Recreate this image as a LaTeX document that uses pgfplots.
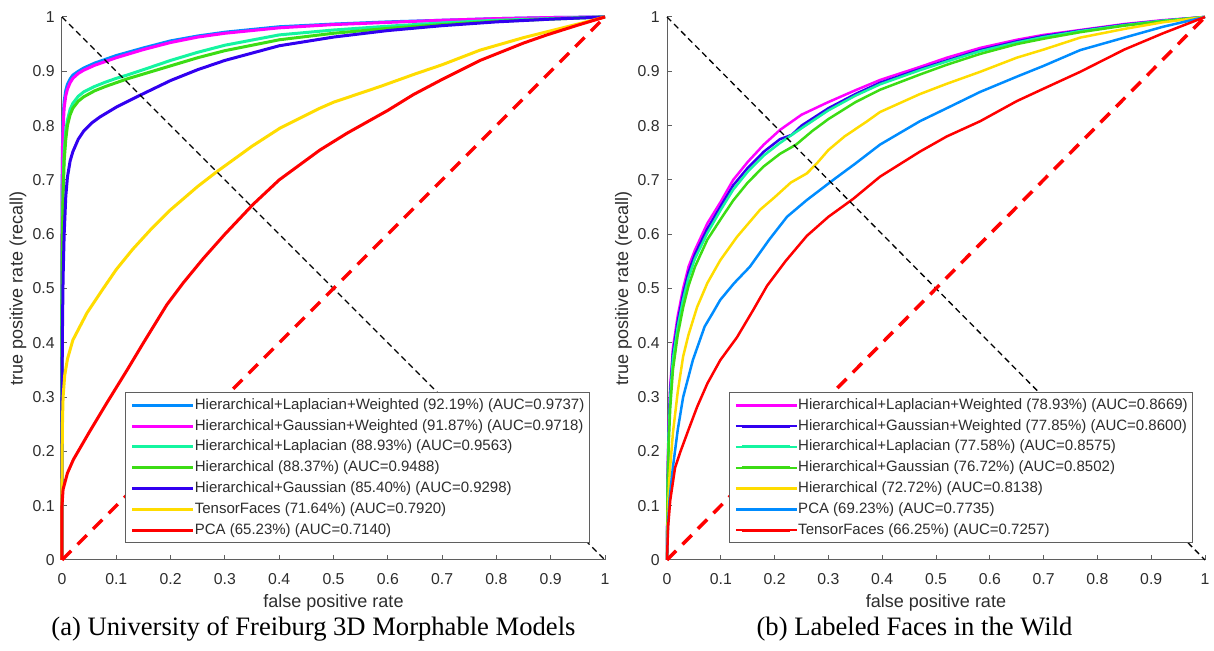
\documentclass[border=0pt]{standalone}
\usepackage{fontspec}
\setmainfont{Liberation Sans}
\newfontfamily\capfont{Liberation Serif}
\usepackage{pgfplots}
\pgfplotsset{compat=1.18}

\definecolor{cBlue}{RGB}{0,140,255}
\definecolor{cMag}{RGB}{255,0,255}
\definecolor{cCyan}{RGB}{20,245,160}
\definecolor{cGreen}{RGB}{60,220,20}
\definecolor{cViolet}{RGB}{50,0,240}
\definecolor{cYellow}{RGB}{255,220,0}
\definecolor{cRed}{RGB}{255,0,0}
\definecolor{axgray}{RGB}{95,95,95}
\definecolor{txt}{RGB}{45,45,45}

\pgfplotsset{roc/.style={
  scale only axis, height=271.5pt,
  xmin=0,xmax=1,ymin=0,ymax=1,
  axis x line*=bottom, axis y line*=left,
  axis line style={axgray, line width=0.5pt, -},
  tick align=inside, major tick length=2.5pt,
  tick style={axgray,line width=0.5pt},
  xtick={0,0.1,0.2,0.3,0.4,0.5,0.6,0.7,0.8,0.9,1},
  xticklabels={0,0.1,0.2,0.3,0.4,0.5,0.6,0.7,0.8,0.9,1},
  ytick={0,0.1,0.2,0.3,0.4,0.5,0.6,0.7,0.8,0.9,1},
  yticklabels={0,0.1,0.2,0.3,0.4,0.5,0.6,0.7,0.8,0.9,1},
  tick label style={font=\fontsize{7.9}{9}\selectfont, text=txt},
  xticklabel style={inner sep=0pt, yshift=-6.5pt},
  yticklabel style={inner sep=0pt, xshift=-3.5pt},
  label style={font=\fontsize{9}{10}\selectfont, text=txt},
  xlabel style={at={(axis description cs:0.5,-0.078)}, anchor=center},
  ylabel style={at={(axis description cs:-0.081,0.5)}, anchor=center},
  xlabel={false positive rate}, ylabel={true positive rate (recall)},
  legend cell align=left,
  legend style={draw=axgray, line width=0.4pt, fill=white,
    font=\fontsize{7.5}{8}\selectfont, text=txt,
    inner xsep=2.5pt, inner ysep=2.7pt, row sep=3.2pt,
    nodes={inner xsep=0pt, inner ysep=0pt, text height=5.6pt, text depth=1.6pt},
    anchor=south east},
  legend image code/.code={\draw[##1, line width=1.5pt] (3pt,0pt) -- (27pt,0pt); \path (0pt,0pt) -- (30.5pt,0pt);},
  clip=false,
}}

\begin{document}
\begin{tikzpicture}
\path[use as bounding box] (0,0) rectangle (607pt,325.5pt);

% ---------------- (a) ----------------
\begin{axis}[roc, at={(31pt,45.5pt)}, anchor=origin, width=271.5pt,
  legend style={at={(0.972,0.031)}},
  every axis plot/.append style={line width=1.5pt}]
\addplot[cBlue] coordinates {(0,0)(0,0.6)(0.0005,0.72)(0.001,0.77)(0.002,0.815)(0.004,0.845)(0.007,0.865)(0.01,0.876)(0.015,0.886)(0.02,0.893)(0.03,0.9)(0.04,0.906)(0.06,0.915)(0.08,0.922)(0.1,0.929)(0.15,0.943)(0.2,0.956)(0.25,0.965)(0.3,0.972)(0.4,0.982)(0.5,0.987)(0.6,0.991)(0.7,0.994)(0.8,0.997)(0.9,0.999)(1,1)};
\addlegendentry{Hierarchical+Laplacian+Weighted (92.19\%) (AUC=0.9737)}
\addplot[cMag] coordinates {(0,0)(0,0.6)(0.0005,0.7)(0.001,0.75)(0.002,0.795)(0.004,0.833)(0.007,0.855)(0.01,0.867)(0.015,0.879)(0.02,0.887)(0.03,0.896)(0.04,0.902)(0.06,0.911)(0.08,0.918)(0.1,0.925)(0.15,0.94)(0.2,0.953)(0.25,0.963)(0.3,0.97)(0.4,0.98)(0.5,0.986)(0.6,0.99)(0.7,0.994)(0.8,0.997)(0.9,0.999)(1,1)};
\addlegendentry{Hierarchical+Gaussian+Weighted (91.87\%) (AUC=0.9718)}
\addplot[cCyan] coordinates {(0,0)(0,0.5)(0.0005,0.58)(0.001,0.63)(0.002,0.69)(0.004,0.75)(0.007,0.79)(0.01,0.81)(0.015,0.83)(0.02,0.841)(0.03,0.854)(0.04,0.862)(0.06,0.872)(0.08,0.88)(0.1,0.887)(0.12,0.893)(0.15,0.903)(0.2,0.92)(0.25,0.935)(0.3,0.948)(0.4,0.967)(0.5,0.976)(0.6,0.983)(0.7,0.989)(0.8,0.994)(0.9,0.997)(1,1)};
\addlegendentry{Hierarchical+Laplacian (88.93\%) (AUC=0.9563)}
\addplot[cGreen] coordinates {(0,0)(0,0.48)(0.0005,0.56)(0.001,0.61)(0.002,0.67)(0.004,0.735)(0.007,0.775)(0.01,0.8)(0.015,0.82)(0.02,0.832)(0.03,0.845)(0.04,0.853)(0.06,0.864)(0.08,0.872)(0.1,0.879)(0.12,0.886)(0.15,0.895)(0.2,0.91)(0.25,0.925)(0.3,0.938)(0.4,0.958)(0.5,0.97)(0.6,0.979)(0.7,0.986)(0.8,0.992)(0.9,0.996)(1,1)};
\addlegendentry{Hierarchical (88.37\%) (AUC=0.9488)}
\addplot[cViolet] coordinates {(0,0)(0,0.3)(0.0005,0.38)(0.001,0.44)(0.002,0.52)(0.004,0.6)(0.007,0.67)(0.01,0.705)(0.015,0.735)(0.02,0.752)(0.03,0.775)(0.04,0.79)(0.055,0.805)(0.07,0.816)(0.1,0.834)(0.144,0.856)(0.2,0.883)(0.25,0.903)(0.3,0.92)(0.4,0.947)(0.5,0.963)(0.6,0.975)(0.7,0.984)(0.8,0.991)(0.9,0.996)(1,1)};
\addlegendentry{Hierarchical+Gaussian (85.40\%) (AUC=0.9298)}
\addplot[cYellow] coordinates {(0,0)(0,0.15)(0.0005,0.22)(0.001,0.26)(0.002,0.3)(0.005,0.34)(0.01,0.37)(0.02,0.405)(0.046,0.455)(0.076,0.5)(0.1,0.535)(0.13,0.572)(0.162,0.607)(0.2,0.645)(0.25,0.688)(0.285,0.715)(0.35,0.762)(0.401,0.795)(0.475,0.832)(0.5,0.843)(0.586,0.872)(0.65,0.895)(0.7,0.912)(0.77,0.939)(0.85,0.962)(0.954,0.988)(1,1)};
\addlegendentry{TensorFaces (71.64\%) (AUC=0.7920)}
\addplot[cRed] coordinates {(0,0)(0,0.1)(0.002,0.13)(0.01,0.16)(0.021,0.185)(0.05,0.235)(0.083,0.29)(0.12,0.35)(0.15,0.40)(0.193,0.47)(0.223,0.51)(0.26,0.555)(0.3,0.6)(0.352,0.655)(0.4,0.7)(0.475,0.755)(0.525,0.786)(0.6,0.828)(0.647,0.857)(0.7,0.885)(0.77,0.92)(0.85,0.952)(0.893,0.967)(0.95,0.985)(1,1)};
\addlegendentry{PCA (65.23\%) (AUC=0.7140)}
\addplot[black, line width=0.65pt, dash pattern=on 3pt off 2pt, forget plot] coordinates {(0,1)(1,0)};
\addplot[cRed, line width=1.75pt, dash pattern=on 6.5pt off 4.5pt, forget plot] coordinates {(0,0)(1,1)};
\end{axis}

% ---------------- (b) ----------------
\begin{axis}[roc, at={(333.5pt,45.5pt)}, anchor=origin, width=269pt,
  legend style={at={(0.978,0.031)}},
  every axis plot/.append style={line width=1.25pt}]
\addplot[cMag] coordinates {(0,0)(0.001,0.15)(0.003,0.25)(0.006,0.32)(0.011,0.39)(0.02,0.45)(0.03,0.5)(0.04,0.54)(0.052,0.571)(0.075,0.62)(0.1,0.66)(0.123,0.70)(0.15,0.733)(0.18,0.765)(0.21,0.792)(0.25,0.82)(0.297,0.842)(0.35,0.865)(0.396,0.884)(0.47,0.908)(0.52,0.925)(0.582,0.943)(0.65,0.958)(0.7,0.967)(0.768,0.976)(0.85,0.987)(0.92,0.994)(1,1)};
\addlegendentry{Hierarchical+Laplacian+Weighted (78.93\%) (AUC=0.8669)}
\addplot[cViolet] coordinates {(0,0)(0.001,0.14)(0.003,0.24)(0.006,0.31)(0.011,0.38)(0.02,0.44)(0.03,0.49)(0.04,0.53)(0.052,0.563)(0.075,0.61)(0.1,0.652)(0.123,0.69)(0.15,0.722)(0.18,0.752)(0.21,0.775)(0.232,0.783)(0.25,0.8)(0.3,0.832)(0.35,0.858)(0.396,0.879)(0.47,0.904)(0.52,0.92)(0.582,0.939)(0.65,0.955)(0.7,0.965)(0.768,0.975)(0.85,0.986)(0.92,0.993)(1,1)};
\addlegendentry{Hierarchical+Gaussian+Weighted (77.85\%) (AUC=0.8600)}
\addplot[cCyan] coordinates {(0,0)(0.001,0.13)(0.003,0.23)(0.006,0.3)(0.011,0.37)(0.02,0.43)(0.03,0.48)(0.04,0.52)(0.052,0.555)(0.075,0.602)(0.1,0.645)(0.123,0.682)(0.15,0.715)(0.18,0.745)(0.21,0.768)(0.25,0.795)(0.3,0.828)(0.35,0.855)(0.396,0.876)(0.47,0.902)(0.52,0.918)(0.582,0.937)(0.65,0.953)(0.7,0.963)(0.768,0.974)(0.85,0.985)(0.92,0.993)(1,1)};
\addlegendentry{Hierarchical+Laplacian (77.58\%) (AUC=0.8575)}
\addplot[cGreen] coordinates {(0,0)(0.001,0.12)(0.003,0.21)(0.006,0.28)(0.011,0.35)(0.02,0.415)(0.03,0.465)(0.04,0.505)(0.052,0.54)(0.075,0.59)(0.1,0.628)(0.123,0.662)(0.15,0.695)(0.18,0.725)(0.21,0.748)(0.24,0.765)(0.27,0.79)(0.3,0.812)(0.35,0.843)(0.396,0.866)(0.47,0.894)(0.52,0.912)(0.582,0.932)(0.65,0.95)(0.7,0.96)(0.768,0.972)(0.85,0.984)(0.92,0.992)(1,1)};
\addlegendentry{Hierarchical+Gaussian (76.72\%) (AUC=0.8502)}
\addplot[cYellow] coordinates {(0,0)(0.002,0.1)(0.005,0.16)(0.011,0.234)(0.02,0.31)(0.03,0.375)(0.04,0.415)(0.056,0.466)(0.075,0.51)(0.099,0.552)(0.13,0.595)(0.173,0.645)(0.2,0.668)(0.23,0.695)(0.26,0.712)(0.279,0.731)(0.3,0.755)(0.33,0.78)(0.372,0.808)(0.396,0.825)(0.47,0.858)(0.52,0.877)(0.582,0.899)(0.65,0.925)(0.7,0.94)(0.768,0.962)(0.85,0.978)(0.92,0.99)(1,1)};
\addlegendentry{Hierarchical (72.72\%) (AUC=0.8138)}
\addplot[cBlue] coordinates {(0,0)(0.002,0.07)(0.005,0.115)(0.011,0.171)(0.02,0.24)(0.03,0.3)(0.048,0.368)(0.07,0.43)(0.085,0.455)(0.099,0.479)(0.125,0.51)(0.154,0.54)(0.19,0.59)(0.223,0.632)(0.26,0.663)(0.309,0.70)(0.35,0.73)(0.396,0.765)(0.47,0.808)(0.52,0.832)(0.582,0.862)(0.65,0.89)(0.7,0.91)(0.768,0.939)(0.85,0.962)(0.922,0.982)(1,1)};
\addlegendentry{PCA (69.23\%) (AUC=0.7735)}
\addplot[cRed] coordinates {(0,0)(0.002,0.06)(0.006,0.11)(0.015,0.17)(0.024,0.197)(0.04,0.24)(0.056,0.282)(0.075,0.325)(0.099,0.368)(0.13,0.41)(0.16,0.46)(0.186,0.505)(0.22,0.55)(0.26,0.597)(0.3,0.632)(0.346,0.665)(0.396,0.706)(0.47,0.752)(0.52,0.78)(0.582,0.808)(0.65,0.845)(0.7,0.868)(0.768,0.899)(0.85,0.94)(0.922,0.97)(1,1)};
\addlegendentry{TensorFaces (66.25\%) (AUC=0.7257)}
\addplot[black, line width=0.65pt, dash pattern=on 3pt off 2pt, forget plot] coordinates {(0,1)(1,0)};
\addplot[cRed, line width=1.75pt, dash pattern=on 6.5pt off 4.5pt, forget plot] coordinates {(0,0)(1,1)};
\end{axis}

\node[font=\capfont\fontsize{13.3}{15}\selectfont, anchor=center] at (156.75pt,11pt) {(a) University of Freiburg 3D Morphable Models};
\node[font=\capfont\fontsize{13.3}{15}\selectfont, anchor=center] at (457.25pt,11pt) {(b) Labeled Faces in the Wild};
\end{tikzpicture}
\end{document}
